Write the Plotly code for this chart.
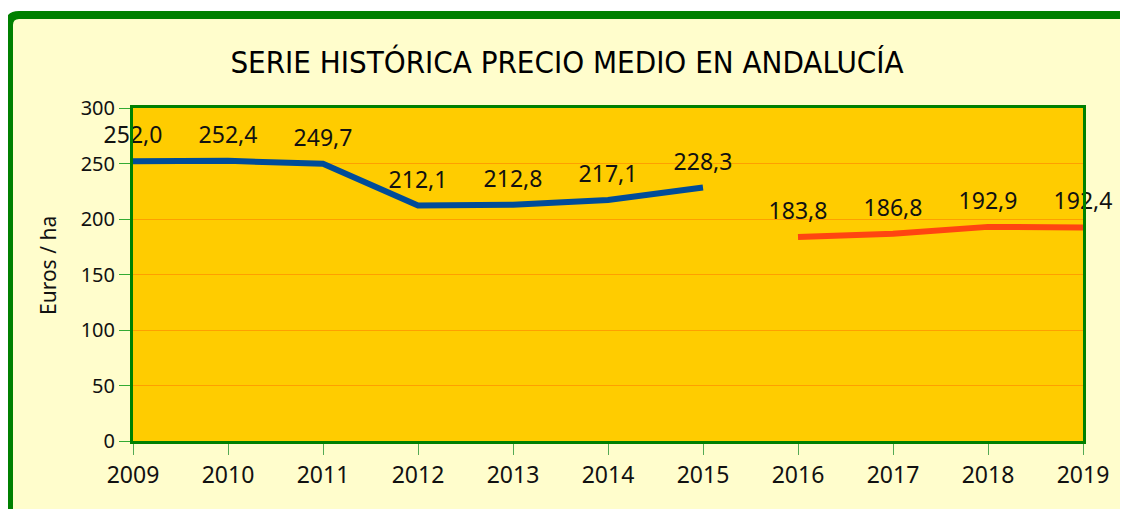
import plotly.graph_objects as go

years_a = [2009, 2010, 2011, 2012, 2013, 2014, 2015]
precio_a = [252.0, 252.4, 249.7, 212.1, 212.8, 217.1, 228.3]
years_b = [2016, 2017, 2018, 2019]
precio_b = [183.8, 186.8, 192.9, 192.4]
x_ticks = list(range(2009, 2020))
y_ticks = [0, 50, 100, 150, 200, 250, 300]

LABEL_FONT = dict(family="Noto Sans", size=23, color="#111111")

fig = go.Figure()
fig.add_trace(go.Scatter(
    x=years_a, y=precio_a, mode="lines+markers+text",
    line=dict(color="#004C99", width=6),
    marker=dict(size=18, opacity=0),
    text=precio_a, texttemplate="%{y:.1f}", textposition="top center",
    textfont=LABEL_FONT, cliponaxis=False, showlegend=False, hoverinfo="skip"))
fig.add_trace(go.Scatter(
    x=years_b, y=precio_b, mode="lines+markers+text",
    line=dict(color="#FF4511", width=6),
    marker=dict(size=18, opacity=0),
    text=precio_b, texttemplate="%{y:.1f}", textposition="top center",
    textfont=LABEL_FONT, cliponaxis=False, showlegend=False, hoverinfo="skip"))

# page body has an 8px margin: figure coordinates = window coordinates - 8
OFF = 8
W, H = 1128 - OFF, 509 - OFF
L, R, T, B = 133 - OFF, 45, 108 - OFF, 68
pw, ph = W - L - R, H - T - B

def px_x(p):
    return (p - OFF - L) / pw

def px_y(p):
    return (H - B - (p - OFF)) / ph

# outer frame with rounded top-left corner
x0, y0 = px_x(9), px_y(15)
x1, y1 = px_x(1150), px_y(540)
rx, ry = 10 / pw, 10 / ph
path = (f"M {x0},{y1} L {x0},{y0 - ry} Q {x0},{y0} {x0 + rx},{y0} "
        f"L {x1},{y0} L {x1},{y1} Z")
fig.add_shape(type="path", path=path, xref="paper", yref="paper",
              fillcolor="#FFFDCC", line=dict(color="#008000", width=8), layer="below")
# plot area fill (drawn above the frame fill)
fig.add_shape(type="rect", xref="paper", yref="paper", x0=0, x1=1, y0=0, y1=1,
              fillcolor="#FFCC00", line=dict(width=0), layer="below")

fig.add_annotation(text="Euros / ha", xref="paper", yref="paper",
                   x=px_x(48), y=px_y(266), xanchor="center", yanchor="middle",
                   showarrow=False, textangle=-90,
                   font=dict(family="Noto Sans", size=21, color="#111111"))

fig.update_layout(
    width=W, height=H,
    margin=dict(l=L, r=R, t=T, b=B),
    paper_bgcolor="white",
    plot_bgcolor="#FFCC00",
    separators=",.",
    title=dict(text="SERIE HISTÓRICA PRECIO MEDIO EN ANDALUCÍA",
               x=(567 - OFF) / W, xanchor="center", y=1 - (62 - OFF) / H, yanchor="middle",
               font=dict(family="DejaVu Sans Condensed", size=31, color="#000000")),
)
fig.update_xaxes(
    range=[2009, 2019], tickvals=x_ticks, ticktext=[str(v) for v in x_ticks],
    showgrid=False, zeroline=False,
    showline=True, linecolor="#008000", linewidth=3, mirror=True,
    ticks="outside", ticklen=11, tickcolor="#55AA55", tickwidth=1,
    tickfont=dict(family="Noto Sans", size=23, color="#111111"))
fig.update_yaxes(
    range=[0, 300], tickvals=y_ticks,
    showgrid=True, gridcolor="#FF9F00", gridwidth=1, zeroline=False,
    showline=True, linecolor="#008000", linewidth=3, mirror=True,
    ticks="outside", ticklen=11, tickcolor="#33AA33", tickwidth=1,
    tickfont=dict(family="Noto Sans", size=20, color="#111111"))

fig.write_html("out.html")
